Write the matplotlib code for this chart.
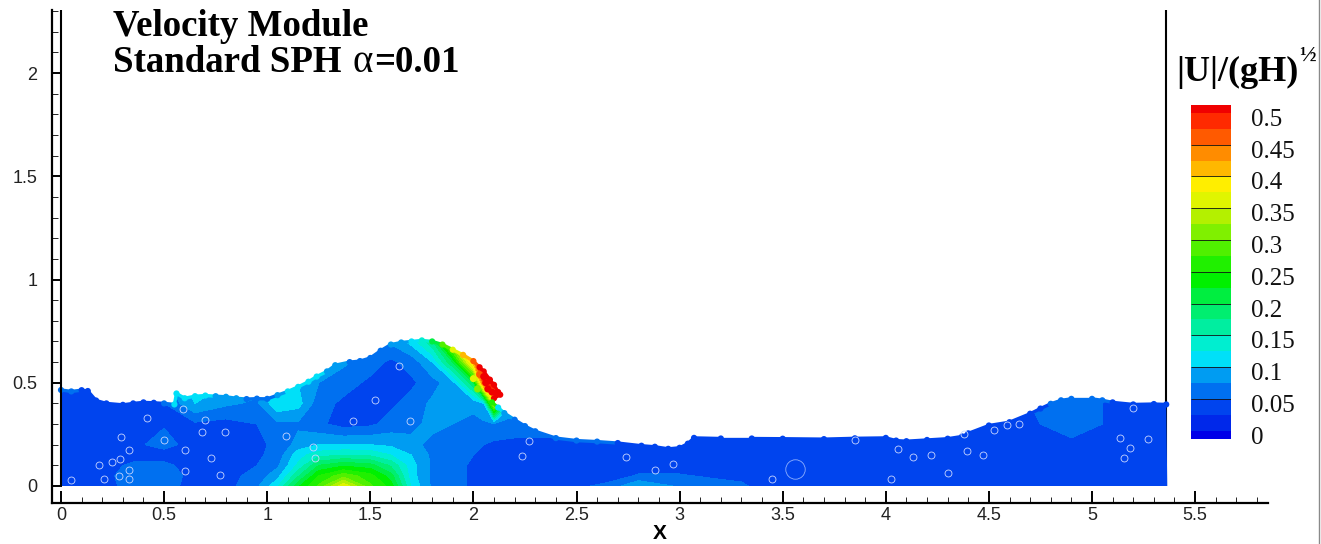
import numpy as np
import matplotlib
matplotlib.use("Agg")
import matplotlib.pyplot as plt
from matplotlib.collections import LineCollection
from matplotlib.colors import ListedColormap, BoundaryNorm
from matplotlib.lines import Line2D
from matplotlib.patches import Polygon
from matplotlib.ticker import MultipleLocator

W, H = 1321, 544

# band colours from below 0 up to above 0.5
band_colors = ["#0000e8", "#0028ea", "#0044ee", "#0070f0", "#009cf2", "#00e0f8",
               "#00eed0", "#00eea0", "#00ee70", "#00ee40", "#00f000", "#20f000",
               "#50f000", "#80f000", "#b4f000", "#e0f500", "#ffee00", "#ffb800",
               "#ff8c00", "#ff5a00", "#ff2a00", "#f00000"]
levels = [0, .025, .05, .075, .1, .125, .15, .175, .2, .225, .25, .275, .3, .325,
          .35, .375, .4, .425, .45, .475, .5]
bar_labels = ["0", "0.05", "0.1", "0.15", "0.2", "0.25", "0.3", "0.35", "0.4", "0.45", "0.5"]
bar_values = [0, .05, .1, .15, .2, .25, .3, .35, .4, .45, .5]

# velocity field
field_x = [0, .2, .35, .5, .65, .8, .95, 1.05, 1.15, 1.25, 1.37, 1.5, 1.6, 1.7, 1.8, 1.9,
           2.0, 2.05, 2.1, 2.2, 2.4, 2.65, 2.8, 3.0, 3.3, 3.4, 4.6, 4.75, 4.9, 5.05, 5.15, 5.37]
field_y = [0, .05, .1, .15, .2, .3, .4, .5, .6, .7, .75]
row_00 = [.04, .04, .06, .06, .04, .04, .07, .12, .22, .28, .37, .28, .24, .12, .07, .06, .045, .04, .04, .04, .04, .055, .10, .07, .055, .04, .04, .04, .04, .04, .04, .04]
row_05 = [.04, .04, .065, .065, .04, .04, .06, .09, .17, .25, .29, .26, .21, .11, .07, .06, .045, .04, .04, .04, .04, .04, .052, .052, .042, .04, .04, .04, .04, .04, .04, .04]
row_10 = [.04, .04, .055, .055, .04, .04, .05, .07, .13, .20, .22, .21, .17, .11, .07, .06, .045, .04, .04, .04, .04, .04, .04, .04, .04, .04, .04, .04, .04, .04, .04, .04]
row_15 = [.04, .04, .04, .04, .04, .04, .045, .06, .115, .14, .15, .145, .125, .10, .07, .06, .05, .04, .04, .04, .04, .04, .04, .04, .04, .04, .04, .04, .04, .04, .04, .04]
row_20 = [.04, .04, .045, .058, .04, .04, .045, .055, .085, .10, .10, .10, .095, .08, .07, .06, .055, .05, .045, .045, .045, .04, .04, .04, .04, .04, .04, .04, .045, .04, .04, .04]
row_30 = [.04, .04, .04, .048, .045, .04, .05, .07, .07, .055, .04, .045, .06, .07, .08, .075, .07, .07, .07, .06, .06, .055, .04, .04, .04, .04, .04, .05, .06, .05, .04, .04]
row_40 = [.045, .04, .04, .05, .10, .08, .07, .12, .11, .06, .045, .04, .045, .06, .08, .09, .08, .10, .35, .10, .08, .06, .04, .04, .04, .04, .04, .055, .075, .05, .04, .04]
row_50 = [.05, .04, .04, .06, .12, .10, .09, .13, .10, .075, .06, .045, .04, .045, .065, .09, .20, .48, .52, .52, .04, .04, .04, .04, .04, .04, .04, .04, .04, .04, .04, .04]
row_60 = [.05, .04, .04, .06, .12, .10, .09, .13, .10, .08, .08, .06, .045, .06, .10, .20, .42, .52, .52, .52, .04, .04, .04, .04, .04, .04, .04, .04, .04, .04, .04, .04]
row_70 = [.05, .04, .04, .06, .12, .10, .09, .13, .10, .08, .08, .07, .08, .11, .17, .36, .50, .52, .52, .52, .04, .04, .04, .04, .04, .04, .04, .04, .04, .04, .04, .04]
row_75 = [.05, .04, .04, .06, .12, .10, .09, .13, .10, .08, .08, .07, .08, .12, .20, .40, .50, .52, .52, .52, .04, .04, .04, .04, .04, .04, .04, .04, .04, .04, .04, .04]

# free surface, with speed of the particles on it
surface_x = [0, .05, .1, .13, .17, .22, .3, .35, .4, .45, .5, .55, .56, .6, .65, .7, .75, .8, .85, .9, .95, 1.0, 1.05, 1.1, 1.15, 1.2, 1.24, 1.29, 1.33, 1.4, 1.45, 1.5, 1.55, 1.6, 1.65, 1.7, 1.75, 1.8, 1.85, 1.9, 1.95, 2.0, 2.03, 2.05, 2.08, 2.1, 2.12, 2.13, 2.1, 2.09, 2.12, 2.15, 2.2, 2.25, 2.3, 2.4, 2.5, 2.6, 2.7, 2.815, 2.88, 2.945, 3.0, 3.04, 3.07, 3.2, 3.35, 3.5, 3.7, 3.85, 4.0, 4.05, 4.1, 4.2, 4.3, 4.37, 4.4, 4.5, 4.6, 4.7, 4.75, 4.8, 4.85, 4.9, 5.0, 5.05, 5.1, 5.2, 5.3, 5.36]
surface_y = [.465, .458, .464, .46, .414, .40, .393, .40, .405, .403, .40, .395, .448, .425, .435, .438, .435, .432, .425, .421, .423, .422, .44, .458, .48, .505, .53, .555, .585, .60, .605, .62, .655, .685, .695, .70, .705, .70, .685, .66, .635, .605, .575, .555, .515, .49, .455, .442, .425, .405, .38, .353, .321, .29, .265, .232, .22, .215, .208, .195, .19, .18, .185, .205, .233, .23, .23, .229, .227, .231, .233, .22, .217, .223, .229, .24, .255, .293, .309, .35, .375, .398, .415, .422, .422, .415, .405, .395, .397, .395]
surface_v = [.06, .05, .04, .04, .04, .04, .04, .04, .04, .04, .05, .10, .11, .11, .11, .11, .09, .08, .08, .07, .07, .07, .09, .11, .11, .11, .10, .09, .08, .07, .07, .07, .07, .08, .09, .11, .14, .20, .28, .36, .42, .46, .50, .52, .52, .52, .52, .52, .52, .25, .10, .08, .07, .07, .065, .06, .055, .05, .04, .04, .04, .04, .04, .04, .04, .04, .04, .04, .04, .04, .04, .04, .04, .04, .04, .04, .04, .04, .04, .04, .04, .06, .07, .07, .07, .06, .04, .04, .04, .04]

# loose particles on the breaking front
front_x = [2.03, 2.05, 2.06, 2.07, 2.09, 2.11, 2.0, 2.02]
front_y = [.54, .53, .50, .47, .455, .45, .52, .47]
front_v = [.46, .52, .52, .52, .52, .52, .36, .30]

# voids seen as small white rings
void_x = [.29, .33, .185, .245, .285, .33, .207, .28, .33, .417, .5, .6, .728, .6, .77, .685, .796, 1.09, 1.22, 1.23, 1.524, 1.64, 1.694, 1.417, 2.27, 2.237, .05, .59, .70, 2.883, 2.967, 4.024, 4.06, 4.394, 4.47, 4.524, 4.648, 4.59, 5.135, 5.157, 5.185, 5.2, 5.274, 4.38, 3.85, 4.3, 4.22, 4.13, 2.74, 3.448]
void_y = [.237, .173, .103, .116, .129, .076, .035, .048, .035, .327, .224, .174, .135, .073, .055, .26, .26, .242, .189, .134, .415, .58, .315, .313, .22, .144, .027, .374, .318, .077, .105, .032, .177, .169, .152, .269, .302, .294, .234, .134, .182, .379, .226, .25, .221, .061, .148, .142, .142, .032]
big_void_x = [3.56]
big_void_y = [.084]

X_TICKS = [0, .5, 1, 1.5, 2, 2.5, 3, 3.5, 4, 4.5, 5, 5.5]
X_LABELS = ["0", "0.5", "1", "1.5", "2", "2.5", "3", "3.5", "4", "4.5", "5", "5.5"]
Y_TICKS = [0, .5, 1, 1.5, 2]
Y_LABELS = ["0", "0.5", "1", "1.5", "2"]

SANS = "Liberation Sans"
SERIF = "Liberation Serif"

fig = plt.figure(figsize=(W / 100, H / 100), dpi=100, facecolor="white")


def px_axes(x0, y0, x1, y1):
    return fig.add_axes([x0 / W, 1 - y1 / H, (x1 - x0) / W, (y1 - y0) / H])


ax = px_axes(52, 10, 1268, 503)
ax.set_xlim((52 - 61) / 206.2, (1268 - 61) / 206.2)
ax.set_ylim(-17 / 206.5, 476 / 206.5)

cmap = ListedColormap(band_colors[1:-1]).with_extremes(under=band_colors[0], over=band_colors[-1])
norm = BoundaryNorm(levels, ncolors=len(levels) - 1)

field = np.array([row_00, row_05, row_10, row_15, row_20, row_30, row_40, row_50, row_60, row_70, row_75])
cs = ax.contourf(field_x, field_y, field, levels=levels, cmap=cmap, norm=norm, extend="both", zorder=1)
clip = Polygon(list(zip(surface_x, surface_y)) + [(5.365, 0), (0, 0)], closed=True,
               transform=ax.transData, fill=False, edgecolor="none")
ax.add_patch(clip)
cs.set_clip_path(clip)

points = np.column_stack([surface_x, surface_y])
edge = LineCollection(np.stack([points[:-1], points[1:]], axis=1), cmap=cmap, norm=norm,
                      linewidths=2.4, capstyle="round", zorder=2)
edge.set_array(np.array(surface_v[:-1]))
ax.add_collection(edge, autolim=False)
ax.scatter(surface_x, surface_y, c=surface_v, cmap=cmap, norm=norm, s=20, linewidths=0, zorder=2)
ax.scatter(front_x, front_y, c=front_v, cmap=cmap, norm=norm, s=26, linewidths=0, zorder=3)
ax.plot(void_x, void_y, ls="none", marker="o", ms=5, mfc="none", mec="#c8d6ff", mew=.6, zorder=4)
ax.plot(big_void_x, big_void_y, ls="none", marker="o", ms=14, mfc="none", mec="#8fb0ff", mew=.6, zorder=4)

# inner frame lines at the domain ends
ax.plot([0, 0], [0, ax.get_ylim()[1]], color="black", lw=1.5, zorder=6, solid_capstyle="butt")
ax.plot([5.36, 5.36], [0, ax.get_ylim()[1]], color="black", lw=1.5, zorder=0.5, solid_capstyle="butt")

for side in ("top", "right"):
    ax.spines[side].set_visible(False)
for side in ("left", "bottom"):
    ax.spines[side].set_linewidth(1.6)

ax.set_xticks(X_TICKS, X_LABELS, fontfamily=SANS, fontsize=13, color="#222222")
ax.set_yticks(Y_TICKS, Y_LABELS, fontfamily=SANS, fontsize=13, color="#222222")
ax.xaxis.set_minor_locator(MultipleLocator(.1))
ax.yaxis.set_minor_locator(MultipleLocator(.1))
ax.tick_params(axis="x", which="major", direction="in", length=8.6, width=1.4, pad=3)
ax.tick_params(axis="x", which="minor", direction="in", length=4.3, width=.6)
ax.tick_params(axis="y", which="major", direction="in", length=7.2, width=1.4, pad=10.5)
ax.tick_params(axis="y", which="minor", direction="in", length=4.3, width=.6)
fig.text(660 / W, 1 - 539 / H, "X", fontfamily=SANS, fontweight="bold", fontsize=15,
         va="baseline", ha="center")

# headings
fig.text(113 / W, 1 - 36 / H, "Velocity Module", fontfamily=SERIF, fontweight="bold",
         fontsize=26.6, va="baseline", ha="left")
fig.text(113 / W, 1 - 72 / H, "Standard SPH", fontfamily=SERIF, fontweight="bold",
         fontsize=26.6, va="baseline", ha="left")
fig.text(352 / W, 1 - 72 / H, "α", fontfamily=SERIF, fontsize=28, va="baseline", ha="left")
fig.text(374 / W, 1 - 72 / H, "=0.01", fontfamily=SERIF, fontweight="bold",
         fontsize=26.6, va="baseline", ha="left")

# colour bar
cax = px_axes(1191, 105, 1231, 438.6)
bar_edges = [-.0125] + levels + [.5125]
cax.pcolormesh([0, 1], bar_edges, np.arange(len(band_colors)).reshape(-1, 1),
               cmap=ListedColormap(band_colors), shading="flat")
cax.set_xlim(0, 1)
cax.set_ylim(-.0125, .5125)
cax.hlines(bar_values[1:-1], 0, 1, color="#111111", lw=.6)
cax.set_axis_off()
for v, label in zip(bar_values, bar_labels):
    cax.annotate(label, xy=(1, v), xycoords=("axes fraction", "data"), xytext=(20, -7),
                 textcoords="offset pixels", va="center", ha="left",
                 fontfamily=SERIF, fontsize=18, color="#111111")

fig.text(1176 / W, 1 - 81 / H, "|U|/(gH)", fontfamily=SERIF, fontweight="bold",
         fontsize=26, va="baseline", ha="left")
fig.text(1299 / W, 1 - 61 / H, "½", fontfamily=SERIF, fontweight="bold",
         fontsize=16, va="baseline", ha="left")

fig.add_artist(Line2D([1318.5 / W, 1318.5 / W], [0, 1], color="#8a8a8a", lw=1))

fig.savefig("out.png", dpi=100, facecolor="white")
